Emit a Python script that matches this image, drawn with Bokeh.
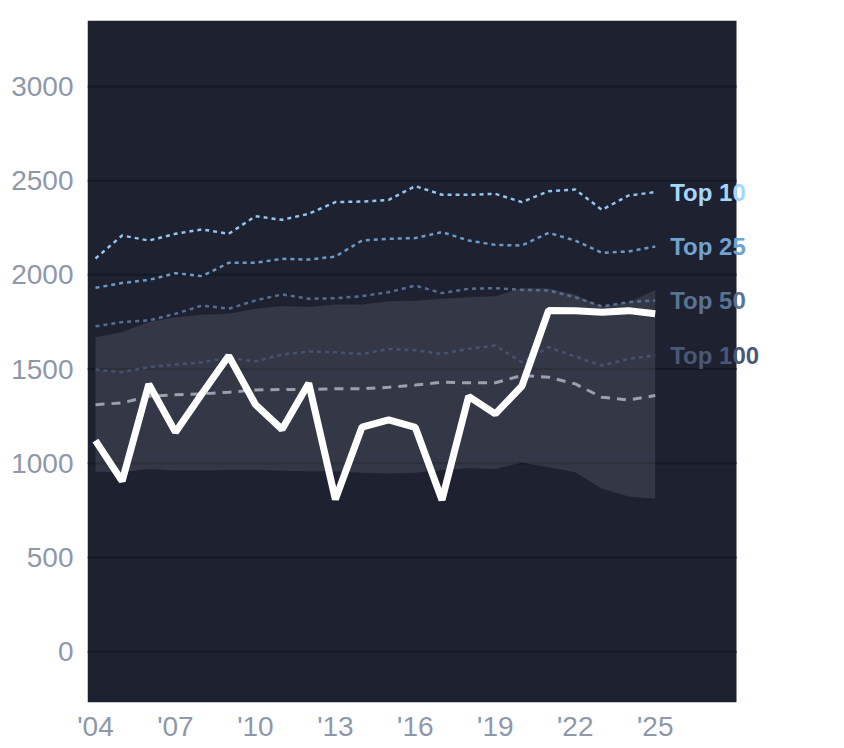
from bokeh.plotting import figure
from bokeh.models import Range1d, FixedTicker, Label
from bokeh.embed import file_html
from bokeh.resources import INLINE

years = list(range(2004, 2026))
main_series = [1120, 905, 1420, 1165, 1370, 1570, 1312, 1180, 1425, 808, 1192, 1230, 1190, 805,
               1355, 1262, 1410, 1811, 1810, 1802, 1810, 1793]
top10 = [2087, 2209, 2182, 2218, 2241, 2218, 2311, 2292, 2324, 2386, 2389, 2398, 2471, 2425,
         2425, 2430, 2386, 2444, 2453, 2345, 2421, 2439]
top25 = [1931, 1957, 1973, 2009, 1993, 2064, 2064, 2085, 2081, 2097, 2182, 2191, 2195, 2227,
         2182, 2159, 2156, 2223, 2182, 2117, 2124, 2150]
top50 = [1727, 1749, 1758, 1793, 1837, 1820, 1864, 1896, 1873, 1876, 1887, 1908, 1943, 1903,
         1926, 1929, 1920, 1917, 1881, 1832, 1855, 1864]
top100 = [1497, 1483, 1510, 1524, 1536, 1559, 1541, 1577, 1593, 1589, 1580, 1607, 1600, 1580,
          1607, 1625, 1536, 1616, 1566, 1519, 1554, 1572]
median = [1311, 1320, 1356, 1363, 1368, 1377, 1389, 1391, 1391, 1395, 1395, 1403, 1415, 1430,
          1427, 1427, 1466, 1457, 1421, 1350, 1336, 1359]
band_low = [955, 952, 970, 962, 962, 964, 965, 960, 958, 958, 950, 945, 950, 964,
            974, 970, 1002, 979, 952, 864, 823, 811]
band_high = [1669, 1696, 1749, 1775, 1788, 1793, 1820, 1834, 1829, 1843, 1843, 1860, 1862, 1873,
             1881, 1887, 1930, 1928, 1895, 1829, 1855, 1920]
y_ticks = [0, 500, 1000, 1500, 2000, 2500, 3000]
x_ticks = [2004, 2007, 2010, 2013, 2016, 2019, 2022, 2025]
x_tick_labels = ["'04", "'07", "'10", "'13", "'16", "'19", "'22", "'25"]
tier_names = ["Top 10", "Top 25", "Top 50", "Top 100"]
tier_colors = ["#93c6ee", "#6a9bc8", "#566e8f", "#46536f"]
label_colors = ["#a5d6fd", "#70a3d0", "#5a7393", "#4a5775"]

# plotting area (dark panel) bounds, and the extra room on the right for the labels
X_MIN, X_PANEL_MAX, X_MAX = 2003.7, 2028.05, 2029.25
Y_MIN, Y_MAX = -270, 3350

p = figure(frame_width=681, frame_height=682, output_backend="svg", toolbar_location=None,
           x_range=Range1d(X_MIN, X_MAX), y_range=Range1d(Y_MIN, Y_MAX),
           min_border_left=87, min_border_top=20, min_border_right=30, min_border_bottom=20)
p.background_fill_color = "white"
p.border_fill_color = "white"
p.outline_line_color = None

p.xgrid.grid_line_color = None
p.ygrid.grid_line_color = None
p.yaxis.ticker = FixedTicker(ticks=y_ticks)
p.xaxis.ticker = FixedTicker(ticks=x_ticks)
p.xaxis.major_label_overrides = {t: l for t, l in zip(x_ticks, x_tick_labels)}
for ax in (p.xaxis, p.yaxis):
    ax.axis_line_color = None
    ax.major_tick_line_color = None
    ax.minor_tick_line_color = None
    ax.major_label_text_color = "#8f98a8"
    ax.major_label_text_font = "Liberation Sans"
p.yaxis.major_label_text_font_size = "28px"
p.yaxis.major_label_standoff = 8
p.xaxis.major_label_text_font_size = "28px"
p.xaxis.major_label_standoff = 2

# dark panel
p.quad(left=X_MIN, right=X_PANEL_MAX, bottom=Y_MIN, top=Y_MAX,
       fill_color="#1d2130", line_color=None)
# horizontal grid lines inside the panel
p.segment(x0=[X_MIN] * len(y_ticks), x1=[X_PANEL_MAX] * len(y_ticks), y0=y_ticks, y1=y_ticks,
          line_color="#151923", line_width=2)

p.varea(x=years, y1=band_low, y2=band_high, fill_color="white", fill_alpha=0.1)

tiers = [top10, top25, top50, top100]
for vals, col in zip(tiers, tier_colors):
    p.line(years, vals, line_color=col, line_width=2.5, line_dash="4 4")

p.line(years, median, line_color="#9aa1ad", line_width=3, line_dash="9 7")
p.line(years, main_series, line_color="white", line_width=7)

for name, vals, col in zip(tier_names, tiers, label_colors):
    p.add_layout(Label(x=years[-1], y=vals[-1], text=name, x_offset=15,
                       text_baseline="middle", text_align="left",
                       text_color=col, text_font="Liberation Sans",
                       text_font_style="bold", text_font_size="24px"))

open("out.html", "w").write(file_html(p, INLINE))
